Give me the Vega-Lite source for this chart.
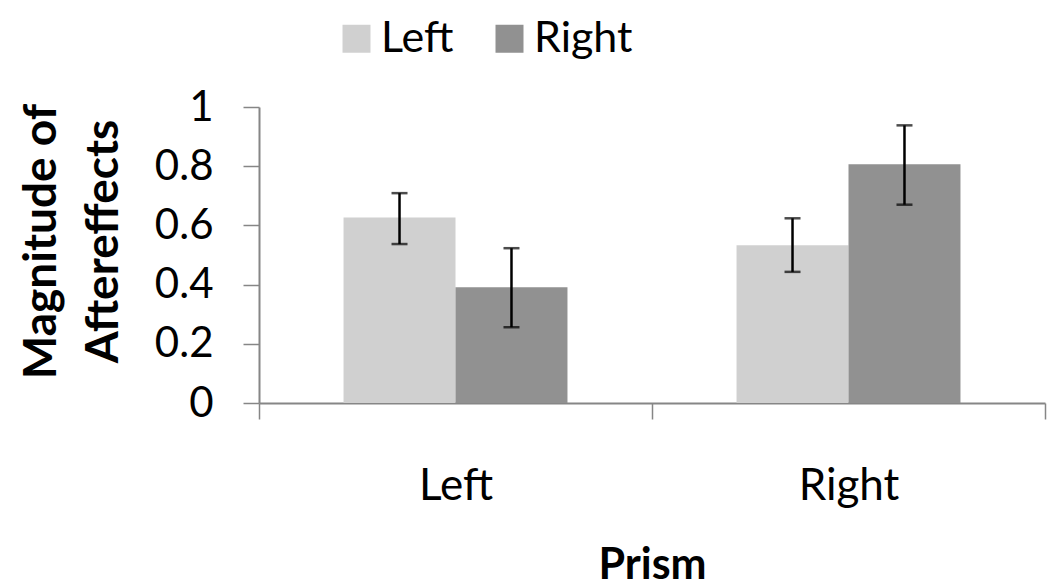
{
  "$schema": "https://vega.github.io/schema/vega-lite/v6.json",
  "width": 786,
  "height": 296,
  "autosize": "none",
  "padding": {"left": 259, "top": 107, "right": 5, "bottom": 183},
  "background": "white",
  "config": {
    "font": "Lato",
    "view": {"stroke": null}
  },
  "data": {
    "values": [
      {"prism": "Left", "side": "Left", "value": 0.627, "lo": 0.537, "hi": 0.709},
      {"prism": "Left", "side": "Right", "value": 0.391, "lo": 0.256, "hi": 0.523},
      {"prism": "Right", "side": "Left", "value": 0.533, "lo": 0.443, "hi": 0.624},
      {"prism": "Right", "side": "Right", "value": 0.807, "lo": 0.670, "hi": 0.938}
    ]
  },
  "encoding": {
    "x": {
      "field": "prism",
      "type": "nominal",
      "sort": ["Left", "Right"],
      "scale": {"paddingInner": 0, "paddingOuter": 0},
      "axis": {
        "title": "Prism",
        "titleFont": "Lato",
        "titleFontSize": 43,
        "titleFontWeight": "bold",
        "titleColor": "black",
        "titleBaseline": "alphabetic",
        "titleY": 175,
        "labelAngle": 0,
        "labelFont": "Lato",
        "labelFontSize": 44,
        "labelColor": "black",
        "labelBaseline": "alphabetic",
        "labelPadding": 80,
        "tickBand": "extent",
        "tickSize": 16,
        "tickWidth": 1.5,
        "tickColor": "#868686",
        "domainColor": "#868686",
        "domainWidth": 2,
        "grid": false
      }
    },
    "xOffset": {
      "field": "side",
      "type": "nominal",
      "sort": ["Left", "Right"],
      "scale": {"paddingInner": 0, "paddingOuter": 0.755}
    }
  },
  "layer": [
    {
      "mark": {"type": "bar"},
      "encoding": {
        "y": {
          "field": "value",
          "type": "quantitative",
          "scale": {"domain": [0, 1], "nice": false},
          "axis": {
            "values": [0, 0.2, 0.4, 0.6, 0.8, 1],
            "format": "~g",
            "title": ["Magnitude of", "Aftereffects"],
            "titleFont": "Lato",
            "titleFontSize": 46,
            "titleFontWeight": "bold",
            "titleColor": "black",
            "titleAngle": -90,
            "titleAlign": "center",
            "titleBaseline": "alphabetic",
            "titleLineHeight": 62,
            "titleX": -204,
            "titleY": 134,
            "labelFont": "Lato",
            "labelFontSize": 42,
            "labelColor": "black",
            "labelPadding": 30,
            "tickSize": 16,
            "tickWidth": 1.5,
            "tickColor": "#868686",
            "domainColor": "#868686",
            "domainWidth": 2,
            "grid": false
          }
        },
        "color": {
          "field": "side",
          "type": "nominal",
          "sort": ["Left", "Right"],
          "scale": {"domain": ["Left", "Right"], "range": ["#d0d0d0", "#919191"]},
          "legend": {
            "orient": "none",
            "legendX": 76,
            "legendY": -90,
            "direction": "horizontal",
            "title": null,
            "symbolType": "square",
            "symbolSize": 784,
            "symbolStrokeWidth": 0,
            "labelFont": "Lato",
            "labelFontSize": 43,
            "labelColor": "black",
            "labelOffset": 3,
            "columnPadding": 34
          }
        }
      }
    },
    {
      "mark": {"type": "rule", "color": "black", "strokeWidth": 2.5},
      "encoding": {
        "y": {"field": "lo", "type": "quantitative"},
        "y2": {"field": "hi"}
      }
    },
    {
      "mark": {"type": "tick", "color": "black", "thickness": 2.5, "size": 16, "orient": "horizontal"},
      "encoding": {
        "y": {"field": "lo", "type": "quantitative"}
      }
    },
    {
      "mark": {"type": "tick", "color": "black", "thickness": 2.5, "size": 16, "orient": "horizontal"},
      "encoding": {
        "y": {"field": "hi", "type": "quantitative"}
      }
    }
  ]
}
